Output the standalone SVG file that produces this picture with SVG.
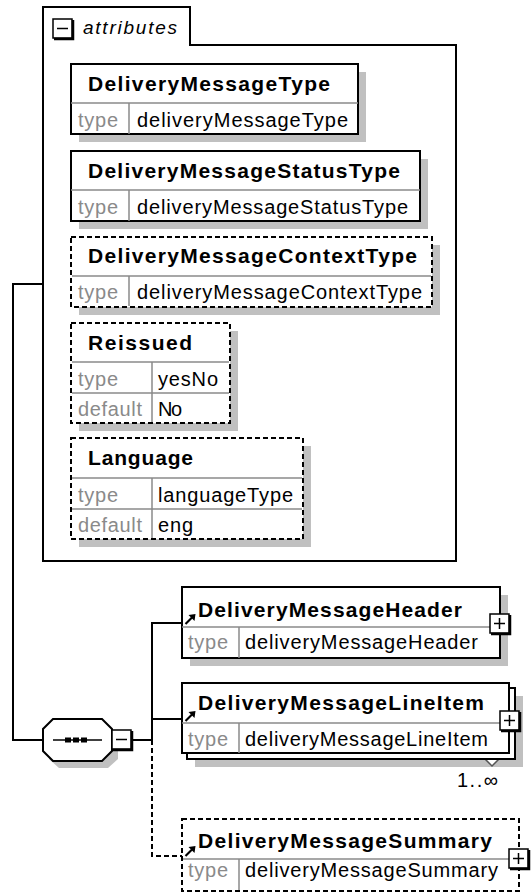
<svg xmlns="http://www.w3.org/2000/svg" width="531" height="893" viewBox="0 0 531 893">
<style>
text { font-family: "Liberation Sans", Arial, sans-serif; }
.title { font-weight: bold; font-size: 21px; fill: #000; }
.lbl { font-size: 20px; fill: #8a8a8a; }
.val { font-size: 20px; fill: #000; }
.box { fill: #fff; stroke: #000; stroke-width: 2; }
.dash { stroke-dasharray: 5 3; }
.shadow { fill: #c0c0c0; stroke: none; }
.div { stroke: #8a8a8a; stroke-width: 1.5; fill: none; }
.line { stroke: #000; stroke-width: 2; fill: none; }
.btn { fill: #fff; stroke: #000; stroke-width: 1.5; }
.btnsh { fill: none; stroke: #000; stroke-width: 2.5; }
.sign { stroke: #000; stroke-width: 1.5; fill: none; }
</style>
<defs>
<g id="arr">
<path d="M0.5,10 L7,3.5" stroke="#000" stroke-width="2.2" fill="none"/>
<polygon points="10.5,0 3.5,1 9.5,7" fill="#000"/>
</g>
<g id="plus">
<rect class="btn" x="0" y="0" width="19" height="19"/>
<path class="btnsh" d="M20,1 V20 H1"/>
<path class="sign" d="M4,9.5 H15 M9.5,4 V15"/>
</g>
<g id="minus">
<rect class="btn" x="0" y="0" width="19" height="19"/>
<path class="btnsh" d="M20,1 V20 H1"/>
<path class="sign" d="M4,9.5 H15"/>
</g>
</defs>

<g id="connectors">
<path class="line" d="M43,284 H13 V740 H43"/>
<path class="line" d="M133,740 H152"/>
<path class="line" d="M152,740 V623 H182"/>
<path class="line" d="M152,719 H182"/>
<path class="line dash" d="M152,740 V856 H182"/>
</g>

<g id="attributes">
<path class="line" d="M43,7 H190 V45 H456 V561 H43 Z" fill="#fff"/>
<use href="#minus" x="53" y="19"/>
<text x="83" y="34" font-size="19" font-style="italic" textLength="94" lengthAdjust="spacing">attributes</text>
</g>

<g id="attr-DeliveryMessageType">
<rect class="shadow" x="79" y="72" width="287" height="70"/>
<rect class="box" x="71" y="64" width="287" height="70"/>
<path class="div" d="M71,103 H358 M129,103 V134"/>
<text class="title" x="88" y="91" textLength="242" lengthAdjust="spacing">DeliveryMessageType</text>
<text class="lbl" x="78" y="127" textLength="40" lengthAdjust="spacing">type</text>
<text class="val" x="137" y="127" textLength="211" lengthAdjust="spacing">deliveryMessageType</text>
</g>

<g id="attr-DeliveryMessageStatusType">
<rect class="shadow" x="79" y="159" width="349" height="70"/>
<rect class="box" x="71" y="151" width="349" height="70"/>
<path class="div" d="M71,190 H420 M129,190 V221"/>
<text class="title" x="88" y="178" textLength="312" lengthAdjust="spacing">DeliveryMessageStatusType</text>
<text class="lbl" x="78" y="214" textLength="40" lengthAdjust="spacing">type</text>
<text class="val" x="137" y="214" textLength="271" lengthAdjust="spacing">deliveryMessageStatusType</text>
</g>

<g id="attr-DeliveryMessageContextType">
<rect class="shadow" x="79" y="245" width="361" height="70"/>
<rect class="box dash" x="71" y="237" width="361" height="70"/>
<path class="div" d="M72,276 H431 M129,276 V306"/>
<text class="title" x="88" y="263" textLength="329" lengthAdjust="spacing">DeliveryMessageContextType</text>
<text class="lbl" x="78" y="299" textLength="40" lengthAdjust="spacing">type</text>
<text class="val" x="137" y="299" textLength="285" lengthAdjust="spacing">deliveryMessageContextType</text>
</g>

<g id="attr-Reissued">
<rect class="shadow" x="79" y="331" width="159" height="100"/>
<rect class="box dash" x="71" y="323" width="159" height="100"/>
<path class="div" d="M72,362 H229 M72,393 H229 M152,362 V422"/>
<text class="title" x="88" y="350" textLength="104" lengthAdjust="spacing">Reissued</text>
<text class="lbl" x="78" y="386" textLength="40" lengthAdjust="spacing">type</text>
<text class="val" x="158" y="386" textLength="60" lengthAdjust="spacing">yesNo</text>
<text class="lbl" x="78" y="416" textLength="64" lengthAdjust="spacing">default</text>
<text class="val" x="158" y="416" textLength="24" lengthAdjust="spacing">No</text>
</g>

<g id="attr-Language">
<rect class="shadow" x="79" y="446" width="232" height="101"/>
<rect class="box dash" x="71" y="438" width="232" height="101"/>
<path class="div" d="M72,478 H302 M72,509 H302 M152,478 V538"/>
<text class="title" x="88" y="465" textLength="105" lengthAdjust="spacing">Language</text>
<text class="lbl" x="78" y="502" textLength="40" lengthAdjust="spacing">type</text>
<text class="val" x="158" y="502" textLength="135" lengthAdjust="spacing">languageType</text>
<text class="lbl" x="78" y="532" textLength="64" lengthAdjust="spacing">default</text>
<text class="val" x="158" y="532" textLength="35" lengthAdjust="spacing">eng</text>
</g>

<g id="sequence">
<polygon class="shadow" points="59,727 108,727 118,737 118,759 108,768 59,768 49,759 49,737"/>
<polygon fill="#fff" stroke="#000" stroke-width="2" points="53,719 102,719 112,729 112,751 102,761 53,761 43,751 43,729"/>
<path d="M53,740 H102" stroke="#000" stroke-width="1.5"/>
<rect x="65" y="737.5" width="6" height="5" fill="#000"/>
<rect x="73" y="737.5" width="6" height="5" fill="#000"/>
<rect x="81" y="737.5" width="6" height="5" fill="#000"/>
<use href="#minus" x="112" y="730"/>
</g>

<g id="el-DeliveryMessageHeader">
<rect class="shadow" x="190" y="595" width="318" height="71"/>
<rect class="box" x="182" y="587" width="318" height="71"/>
<path class="div" d="M182,627 H500 M239,627 V658"/>
<use href="#arr" x="185" y="614"/>
<text class="title" x="198" y="617" textLength="264" lengthAdjust="spacing">DeliveryMessageHeader</text>
<text class="lbl" x="188" y="649" textLength="40" lengthAdjust="spacing">type</text>
<text class="val" x="245" y="649" textLength="233" lengthAdjust="spacing">deliveryMessageHeader</text>
<use href="#plus" x="490" y="614"/>
</g>

<g id="el-DeliveryMessageLineItem">
<rect class="shadow" x="195" y="696" width="328" height="71"/>
<polyline points="483,757 492,766 501,757" fill="#fff" stroke="#555" stroke-width="1.5"/>
<rect class="box" x="187" y="688" width="328" height="71"/>
<rect class="box" x="182" y="683" width="327" height="70"/>
<path class="div" d="M182,723 H509 M239,723 V753"/>
<use href="#arr" x="185" y="711"/>
<text class="title" x="198" y="710" textLength="286" lengthAdjust="spacing">DeliveryMessageLineItem</text>
<text class="lbl" x="188" y="746" textLength="40" lengthAdjust="spacing">type</text>
<text class="val" x="245" y="746" textLength="243" lengthAdjust="spacing">deliveryMessageLineItem</text>
<use href="#plus" x="500" y="711"/>
<text class="val" x="457" y="787" font-size="18" textLength="41" lengthAdjust="spacing">1..∞</text>
</g>

<g id="el-DeliveryMessageSummary">
<rect class="box dash" x="182" y="819" width="337" height="72"/>
<path class="div" d="M183,859 H518 M239,859 V890"/>
<use href="#arr" x="185" y="846"/>
<text class="title" x="198" y="848" textLength="294" lengthAdjust="spacing">DeliveryMessageSummary</text>
<text class="lbl" x="188" y="877" textLength="40" lengthAdjust="spacing">type</text>
<text class="val" x="245" y="877" textLength="253" lengthAdjust="spacing">deliveryMessageSummary</text>
<use href="#plus" x="509" y="849"/>
</g>
</svg>
